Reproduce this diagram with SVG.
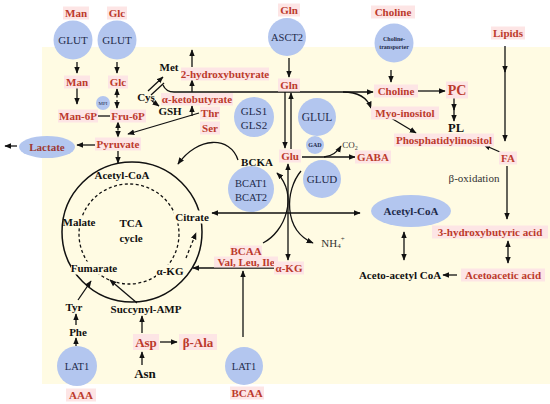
<svg xmlns="http://www.w3.org/2000/svg" width="550" height="404" viewBox="0 0 550 404">
<defs>
<style>
.r{font-family:"Liberation Serif",serif;font-weight:bold;font-size:11px;fill:#BC3A2C;text-anchor:middle;dominant-baseline:central}
.k{font-family:"Liberation Serif",serif;font-weight:bold;font-size:11px;fill:#111;text-anchor:middle;dominant-baseline:central}
.t{font-family:"Liberation Serif",serif;font-size:11px;fill:#1E2A4A;text-anchor:middle;dominant-baseline:central}
.g{font-family:"Liberation Serif",serif;font-size:11px;fill:#333;text-anchor:middle;dominant-baseline:central}
.p{fill:#FDE5E5}
.y{fill:#FFFBE3}
.c{fill:#B3C6EF}
.l{stroke:#111;stroke-width:1.3;fill:none}
.e{marker-end:url(#ah)}
.b{marker-start:url(#ah);marker-end:url(#ah)}
.d{stroke-dasharray:3 2.5}
</style>
<marker id="ah" viewBox="0 0 10 10" refX="9" refY="5" markerWidth="7" markerHeight="7" markerUnits="userSpaceOnUse" orient="auto-start-reverse"><path d="M0,1 L10,5 L0,9 z" fill="#111"/></marker>
</defs>
<rect x="42" y="47" width="508" height="337" fill="#FFFBE3"/>

<g id="connectors">
<path class="l e" d="M77,62 L77,73"/>
<path class="l e" d="M77,88 L77,104"/>
<path class="l" d="M97,116 L110,116"/>
<path class="l e" d="M117,62 L117,73"/>
<path class="l b d" d="M117,89 L117,108"/>
<path class="l b d" d="M118,122 L118,137"/>
<path class="l e" d="M98,145 L77,145"/>
<path class="l e" d="M17,146 L5,146"/>
<path class="l e" d="M118,151 L118,163"/>
<path class="l e" d="M199,113 L128,134"/>
<path class="l e" d="M192,116 L192,106"/>
<path class="l e" d="M192,92 L192,80"/>
<path class="l e" d="M192,67 L192,50"/>
<path class="l e" d="M148,91 L163,77"/>
<path class="l" d="M151,95 L164,83"/>
<path class="l e" d="M163,85 Q166,92 174,92 L373,92"/>
<path class="l e" d="M152,101 L159,106"/>
<path class="l e" d="M343,92 C358,92 367,97 371,108"/>
<path class="l e" d="M391,70 L391,82"/>
<path class="l e" d="M417,91 L445,91"/>
<path class="l e" d="M454,98 L454,110"/>
<path class="l e" d="M454,108 L454,121"/>
<path class="l e" d="M391,118 L416,133"/>
<path class="l e" d="M505,46 L505,72"/>
<path class="l e" d="M505,70 L505,141"/>
<path class="l e" d="M500,152 L484,145"/>
<path class="l e" d="M507,166 L507,219"/>
<path class="l b" d="M404,232 L404,260"/>
<path class="l b" d="M508,241 L508,263"/>
<path class="l e" d="M457,275 L443,275"/>
<path class="l e" d="M289,58 L289,77"/>
<path class="l e" d="M285,92 L285,148"/>
<path class="l e" d="M291,149 L291,93"/>
<path class="l e" d="M302,157 L355,157"/>
<path class="l e" d="M324,157 Q335,156 341,146"/>
<path class="l b" d="M288,164 L288,260"/>
<path class="l b" d="M212,213 L360,213"/>
<path class="l e" d="M263,243 C285,232 299,195 277,173"/>
<path class="l e" d="M301,171 C285,190 283,230 313,243"/>
<path class="l e" d="M238,160 C230,136 198,136 178,164"/>
<path class="l e" d="M280,268 L193,268"/>
<path class="l e" d="M243,337 L243,271"/>
<circle class="l" cx="132" cy="232" r="70" style="stroke-width:1.5"/>
<circle class="l d" cx="129" cy="234" r="50"/>
<path class="l e d" d="M186,258 L196,233"/>
<path class="l e" d="M78,300 L91,281"/>
<path class="l e" d="M76,325 L76,314"/>
<path class="l e" d="M76,346 L76,338"/>
<path class="l e" d="M137,303 L110,280"/>
<path class="l e" d="M142,333 L142,316"/>
<path class="l e" d="M142,365 L142,352"/>
<path class="l e" d="M160,342 L177,342"/>
</g>

<g id="glut1"><circle class="c" cx="73" cy="40" r="19.5"/><text class="t" x="73" y="40">GLUT</text></g>
<g id="glut2"><circle class="c" cx="117" cy="40" r="19.5"/><text class="t" x="117" y="40">GLUT</text></g>
<g id="mpi"><circle class="c" cx="103" cy="103" r="7"/><text class="t" x="103" y="103" style="font-size:5px">MPI</text></g>
<g id="asct2"><circle class="c" cx="287" cy="37" r="19"/><text class="t" x="287" y="37" style="font-size:10.5px">ASCT2</text></g>
<g id="choline-transporter"><circle class="c" cx="394" cy="43" r="19.5"/><text class="k" x="394" y="39" style="font-size:6px;fill:#1E2A4A">Choline-</text><text class="k" x="394" y="47" style="font-size:6px;fill:#1E2A4A">transporter</text></g>
<g id="gls"><circle class="c" cx="254" cy="117" r="20"/><text class="t" x="254" y="111">GLS1</text><text class="t" x="254" y="125">GLS2</text></g>
<g id="glul"><circle class="c" cx="317" cy="117" r="19"/><text class="t" x="317" y="117" style="font-size:11.5px">GLUL</text></g>
<g id="gad"><circle class="c" cx="315" cy="145" r="9"/><text class="k" x="315" y="145" style="font-size:6px;fill:#1E2A4A">GAD</text></g>
<g id="bcat"><circle class="c" cx="251" cy="189" r="23"/><text class="t" x="251" y="183" style="font-size:10.5px">BCAT1</text><text class="t" x="251" y="197" style="font-size:10.5px">BCAT2</text></g>
<g id="glud"><circle class="c" cx="322" cy="179" r="19"/><text class="t" x="322" y="179">GLUD</text></g>
<g id="lat1-aaa"><circle class="c" cx="77" cy="366" r="20"/><text class="t" x="77" y="366" style="font-size:10.5px">LAT1</text></g>
<g id="lat1-bcaa"><circle class="c" cx="244" cy="366" r="19"/><text class="t" x="244" y="366" style="font-size:10.5px">LAT1</text></g>
<g id="lactate"><ellipse class="c" cx="47" cy="147" rx="28" ry="11"/><text class="r" x="47" y="147" style="fill:#9E3A34">Lactate</text></g>
<g id="acetylcoa-e"><ellipse class="c" cx="411" cy="211" rx="40" ry="16"/><text class="k" x="411" y="211" style="fill:#1E2A4A">Acetyl-CoA</text></g>

<g id="man-top"><rect class="p" x="63" y="6.5" width="26" height="13"/><text class="r" x="76" y="13">Man</text></g>
<g id="glc-top"><rect class="p" x="107" y="6.5" width="20" height="13"/><text class="r" x="117" y="13">Glc</text></g>
<g id="man"><rect class="p" x="64" y="75.5" width="26" height="13"/><text class="r" x="77" y="82">Man</text></g>
<g id="glc"><rect class="p" x="108" y="75.5" width="20" height="13"/><text class="r" x="118" y="82">Glc</text></g>
<g id="man6p"><rect class="p" x="58" y="109.5" width="40" height="13"/><text class="r" x="78" y="116">Man-6P</text></g>
<g id="fru6p"><rect class="p" x="110" y="109.5" width="36" height="13"/><text class="r" x="128" y="116">Fru-6P</text></g>
<g id="hydroxybutyrate"><rect class="p" x="181" y="67.5" width="88" height="13"/><text class="r" x="225" y="74">2-hydroxybutyrate</text></g>
<g id="ketobutyrate"><rect class="p" x="161" y="93" width="72" height="12.5"/><text class="r" x="197" y="99">α-ketobutyrate</text></g>
<g id="thr"><rect class="p" x="200" y="106.5" width="20" height="13"/><text class="r" x="210" y="113">Thr</text></g>
<g id="ser"><rect class="p" x="200" y="121.5" width="20" height="13"/><text class="r" x="210" y="128">Ser</text></g>
<g id="gln-top"><rect class="p" x="278" y="3.5" width="22" height="13"/><text class="r" x="289" y="10">Gln</text></g>
<g id="gln"><rect class="p" x="278" y="78.5" width="22" height="13"/><text class="r" x="289" y="85">Gln</text></g>
<g id="glu"><rect class="p" x="279" y="149.5" width="22" height="13"/><text class="r" x="290" y="156">Glu</text></g>
<g id="gaba"><rect class="p" x="355" y="150.5" width="36" height="13"/><text class="r" x="373" y="157">GABA</text></g>
<g id="choline-top"><rect class="p" x="371" y="5.5" width="44" height="13"/><text class="r" x="393" y="12">Choline</text></g>
<g id="choline"><rect class="p" x="374" y="84.5" width="44" height="13"/><text class="r" x="396" y="91">Choline</text></g>
<g id="myo"><rect class="p" x="371" y="106.5" width="68" height="13"/><text class="r" x="405" y="113">Myo-inositol</text></g>
<g id="pc"><rect class="p" x="446" y="81.5" width="22" height="17"/><text class="r" x="457" y="90" style="font-size:14px">PC</text></g>
<g id="pl"><text class="k" x="456" y="128" style="font-size:12.5px">PL</text></g>
<g id="pi"><rect class="p" x="394" y="133.5" width="100" height="13"/><text class="r" x="444" y="140">Phosphatidylinositol</text></g>
<g id="fa"><rect class="p" x="499" y="151.5" width="18" height="13"/><text class="r" x="508" y="158">FA</text></g>
<g id="lipids"><rect class="p" x="491" y="26.5" width="34" height="13"/><text class="r" x="508" y="33">Lipids</text></g>
<g id="boxid"><text class="g" x="474" y="178">β-oxidation</text></g>
<g id="hba"><rect class="p" x="432" y="225.5" width="116" height="13"/><text class="r" x="490" y="232">3-hydroxybutyric acid</text></g>
<g id="aaa-acid"><rect class="p" x="461" y="268.5" width="84" height="13"/><text class="r" x="503" y="275">Acetoacetic acid</text></g>
<g id="aacoa"><text class="k" x="400" y="275">Aceto-acetyl CoA</text></g>
<g id="pyruvate"><rect class="p" x="95" y="137.5" width="46" height="13"/><text class="r" x="118" y="144">Pyruvate</text></g>
<g id="met"><text class="k" x="169" y="67">Met</text></g>
<g id="cys"><text class="k" x="146" y="97">Cys</text></g>
<g id="gsh"><text class="k" x="170" y="111">GSH</text></g>
<g id="bcka"><text class="k" x="257" y="162">BCKA</text></g>
<g id="bcaa"><rect class="p" x="230" y="245.5" width="32" height="13"/><rect class="p" x="214" y="256.5" width="64" height="11"/><text class="r" x="246" y="251">BCAA</text><text class="r" x="246" y="262">Val, Leu, Ile</text></g>
<g id="akg"><rect class="p" x="274" y="261.5" width="30" height="13"/><text class="r" x="289" y="268">α-KG</text></g>
<g id="nh4"><text class="g" x="333" y="243">NH<tspan style="font-size:7px" dy="3">4</tspan><tspan style="font-size:7px" dy="-7">+</tspan></text></g>
<g id="co2"><text class="g" x="350" y="145" style="font-size:9px">CO<tspan style="font-size:6px" dy="3">2</tspan></text></g>
<g id="acetylcoa-t"><text class="k" x="122" y="175">Acetyl-CoA</text></g>
<g id="malate"><rect class="y" x="66" y="216" width="32" height="12"/><text class="k" x="79" y="222">Malate</text></g>
<g id="tca"><text class="k" x="131" y="223">TCA</text><text class="k" x="131" y="238">cycle</text></g>
<g id="citrate"><rect class="y" x="174" y="210.5" width="36" height="13"/><text class="k" x="192" y="217">Citrate</text></g>
<g id="akg-tca"><rect class="y" x="156" y="264.5" width="28" height="13"/><text class="k" x="170" y="271">α-KG</text></g>
<g id="fumarate"><rect class="y" x="71" y="261.5" width="46" height="13"/><text class="k" x="94" y="268">Fumarate</text></g>
<g id="tyr"><text class="k" x="74" y="307">Tyr</text></g>
<g id="phe"><text class="k" x="78" y="332">Phe</text></g>
<g id="samp"><text class="k" x="146" y="309">Succynyl-AMP</text></g>
<g id="asp"><rect class="p" x="133" y="334" width="26" height="16"/><text class="r" x="146" y="342" style="font-size:13px">Asp</text></g>
<g id="bala"><rect class="p" x="179" y="334" width="38" height="16"/><text class="r" x="198" y="342" style="font-size:13px">β-Ala</text></g>
<g id="asn"><text class="k" x="145" y="373" style="font-size:13px">Asn</text></g>
<g id="aaa"><rect class="p" x="66" y="388.5" width="30" height="13"/><text class="r" x="81" y="395">AAA</text></g>
<g id="bcaa-bottom"><rect class="p" x="230" y="386.5" width="34" height="13"/><text class="r" x="247" y="393">BCAA</text></g>
</svg>
